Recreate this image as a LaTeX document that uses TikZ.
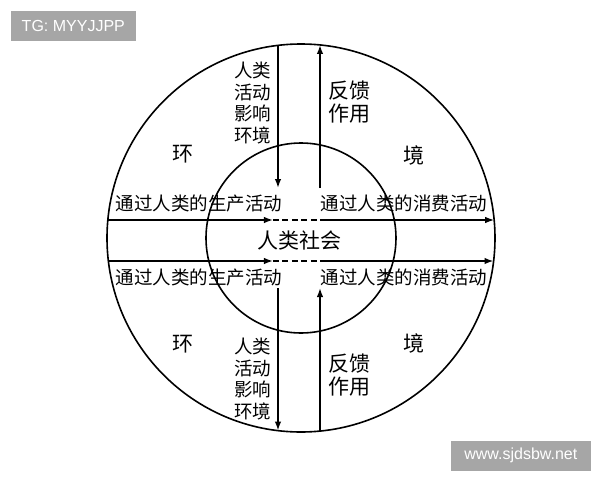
\documentclass[tikz,border=0pt]{standalone}
\usepackage{fontspec}
\setmainfont{Liberation Sans}
\newfontfamily\cjk{Noto Sans CJK SC}
\usetikzlibrary{arrows.meta}

\begin{document}
\begin{tikzpicture}[x=10pt,y=10pt,line width=1.6pt,
    arr/.style={-{Latex[length=9pt,width=6.5pt]}},
    dsh/.style={dash pattern=on 6pt off 3.5pt},
    txt/.style={font=\cjk\fontsize{18.5}{21.7}\selectfont,inner sep=0pt,align=center},
    big/.style={font=\cjk\fontsize{21}{23}\selectfont,inner sep=0pt,align=center},
    tag/.style={fill=black!35,text=white,font=\fontsize{16}{19}\selectfont,inner sep=0pt,minimum height=30pt}]
  \useasboundingbox (-30.1,-24.2) rectangle (29.9,23.8);
  \node[tag,minimum width=125pt,anchor=north west] (tg) at (-29.1,22.8){TG: MYYJJPP};
  \node[tag,minimum width=140pt,anchor=north west] (web) at (14.9,-20.2){www.sjdsbw.net};
  \draw (0,0) circle (19.4);
  \draw (0,0) circle (9.5);
  \coordinate (hl1) at (-19.32,1.8);
  \coordinate (hm1) at (-2.8,1.8);
  \coordinate (hn1) at (2.1,1.8);
  \coordinate (hr1) at (19.32,1.8);
  \coordinate (hl2) at (-19.26,-2.3);
  \coordinate (hm2) at (-2.8,-2.3);
  \coordinate (hn2) at (2.1,-2.3);
  \coordinate (hr2) at (19.26,-2.3);
  \coordinate (vt1) at (-2.3,19.26);
  \coordinate (vm1) at (-2.3,5.0);
  \coordinate (vt2) at (1.9,19.31);
  \coordinate (vm2) at (1.9,5.0);
  \coordinate (vb1) at (-2.3,-19.26);
  \coordinate (vn1) at (-2.3,-5.0);
  \coordinate (vb2) at (1.9,-19.31);
  \coordinate (vn2) at (1.9,-5.0);
  \draw[arr] (hl1) -- (hm1);
  \draw[dsh] (hm1) -- (hn1);
  \draw[arr] (hn1) -- (hr1);
  \draw[arr] (hl2) -- (hm2);
  \draw[dsh] (hm2) -- (hn2);
  \draw[arr] (hn2) -- (hr2);
  \draw[arr] (vt1) -- (vm1);
  \draw[arr] (vm2) -- (vt2);
  \draw[arr] (vn1) -- (vb1);
  \draw[arr] (vb2) -- (vn2);
  \node[big] (soc) at (-0.1,-0.2){人类社会};
  \node[txt] (prodU) at (-10.2,3.5){通过人类的生产活动};
  \node[txt] (consU) at (10.3,3.5){通过人类的消费活动};
  \node[txt] (prodD) at (-10.2,-3.9){通过人类的生产活动};
  \node[txt] (consD) at (10.3,-3.9){通过人类的消费活动};
  \node[txt,anchor=east] (actU) at (-2.9,13.5){人类\\活动\\影响\\环境};
  \node[txt,anchor=east] (actD) at (-2.9,-14.1){人类\\活动\\影响\\环境};
  \node[big,anchor=west] (fbU) at (2.7,13.6){反馈\\作用};
  \node[big,anchor=west] (fbD) at (2.7,-13.7){反馈\\作用};
  \node[big] (envUL) at (-11.8,8.4){环};
  \node[big] (envUR) at (11.3,8.3){境};
  \node[big] (envDL) at (-11.8,-10.6){环};
  \node[big] (envDR) at (11.3,-10.5){境};
\end{tikzpicture}
\end{document}
